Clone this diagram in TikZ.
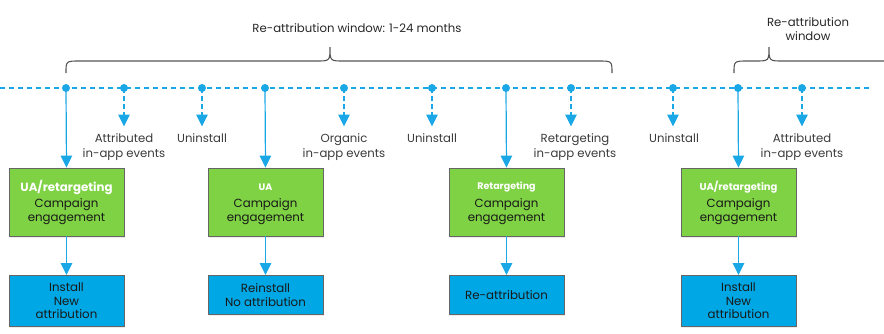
\documentclass[tikz,border=0pt]{standalone}
\usepackage{fontspec}
\setmainfont{Poppins}
\usetikzlibrary{arrows.meta,shadows}
\definecolor{tlblue}{HTML}{1AA7E6}
\definecolor{boxgreen}{HTML}{7ED243}
\definecolor{boxblue}{HTML}{00A7E5}
\definecolor{lblgray}{HTML}{3A3A3A}
\definecolor{bracegray}{HTML}{555555}
\tikzset{tiptri/.tip={Triangle[width=11.5pt,length=12pt]}}
\begin{document}
\begin{tikzpicture}[x=1pt,y=-1pt,
  evlabel/.style={font=\fontsize{11.7}{15}\selectfont, text=lblgray, align=center, anchor=north, inner sep=0pt},
  dotnode/.style={circle, fill=tlblue, inner sep=0pt, minimum size=8pt},
  greenbox/.style={draw=black!60, line width=0.9pt, fill=boxgreen, minimum width=115pt, minimum height=68pt, align=center, inner sep=0pt, drop shadow={opacity=0.15,shadow xshift=1pt,shadow yshift=-1.5pt}},
  gtext/.style={font=\fontsize{11.8}{14}\selectfont, text=black!90, align=center, inner sep=0pt},
  bluebox/.style={draw=black!60, line width=0.9pt, fill=boxblue, minimum width=115pt, align=center, inner sep=0pt, drop shadow={opacity=0.15,shadow xshift=1pt,shadow yshift=-1.5pt}, font=\fontsize{11.8}{13.5}\selectfont, text=black!90, anchor=north},
  solidarr/.style={draw=tlblue, line width=1.2pt, -tiptri},
  dasharr/.style={draw=tlblue, line width=1.2pt, dash pattern=on 5pt off 3pt, -tiptri},
  bracestyle/.style={draw=bracegray, line width=1.1pt},
  headtxt/.style={font=\fontsize{11.7}{14.5}\selectfont, text=black!85, align=center, inner sep=0pt},
  boldlbl/.style={text=white, inner sep=0pt, font=\bfseries\fontsize{#1}{#1}\selectfont}
]
\useasboundingbox (0,0) rectangle (884,333);
% timeline
\coordinate (tl) at (0,88);
\coordinate (tr) at (872,88);
\draw[tlblue, line width=1.2pt, dash pattern=on 5pt off 4pt] (tl) -- (tr);
% dots
\foreach \n/\x in {d1/66,d2/124,d3/202,d4/265,d5/344,d6/432,d7/506,d8/571,d9/673,d10/738,d11/802}
  \node[dotnode] (\n) at (\x,88) {};
% event labels
\node[evlabel] (l2) at (124,133.5) {Attributed\\in-app events};
\node[evlabel] (l3) at (202,133.5) {Uninstall};
\node[evlabel] (l5) at (344,133.5) {Organic\\in-app events};
\node[evlabel] (l6) at (432,133.5) {Uninstall};
\node[evlabel] (l8) at (575,133.5) {Retargeting\\in-app events};
\node[evlabel] (l9) at (674,133.5) {Uninstall};
\node[evlabel] (l11) at (802,133.5) {Attributed\\in-app events};
\foreach \d/\l in {d2/l2,d3/l3,d5/l5,d6/l6,d8/l8,d9/l9,d11/l11}
  \draw[dasharr] (\d.center) -- ([yshift=7pt]\d.center |- \l.north);
% green boxes
\node[greenbox] (g1) at (66.5,202) {};
\node[boldlbl=11.8] (g1h) at (66.5,188) {UA/retargeting};
\node[gtext] (g1t) at (66.5,211.5) {Campaign\\engagement};
\node[greenbox] (g2) at (265.5,202) {};
\node[boldlbl=9.5] (g2h) at (265.5,187) {UA};
\node[gtext] (g2t) at (265.5,211.5) {Campaign\\engagement};
\node[greenbox] (g3) at (506.5,202) {};
\node[boldlbl=9.5] (g3h) at (506.5,187) {Retargeting};
\node[gtext] (g3t) at (506.5,211.5) {Campaign\\engagement};
\node[greenbox] (g4) at (738.5,202) {};
\node[boldlbl=10] (g4h) at (738.5,187) {UA/retargeting};
\node[gtext] (g4t) at (738.5,211.5) {Campaign\\engagement};
% blue boxes
\node[bluebox, minimum height=51pt] (b1) at (66.5,275) {Install\\New\\attribution};
\node[bluebox, minimum height=39pt] (b2) at (265.5,275) {Reinstall\\No attribution};
\node[bluebox, minimum height=39pt] (b3) at (506.5,275) {Re-attribution};
\node[bluebox, minimum height=51pt] (b4) at (738.5,275) {Install\\New\\attribution};
% solid arrows
\foreach \d/\g/\b in {d1/g1/b1,d4/g2/b2,d7/g3/b3,d10/g4/b4}{
  \draw[solidarr] (\d.center) -- (\g.north);
  \draw[solidarr] (\g.south) -- (\b.north);
}
% braces
\draw[bracestyle] (66,73) .. controls (66,61) .. (80,61) -- (316,61) .. controls (330,61) .. (330,47) .. controls (330,61) .. (344,61) -- (598,61) .. controls (612,61) .. (612,73);
\draw[bracestyle] (734,73) .. controls (734,61) .. (748,61) -- (755,61) .. controls (769,61) .. (769,47) .. controls (769,61) .. (783,61) -- (884,61);
\node[headtxt] (h1) at (357,28) {Re-attribution window: 1-24 months};
\node[headtxt] (h2) at (808,29) {Re-attribution\\window};
\end{tikzpicture}
\end{document}
